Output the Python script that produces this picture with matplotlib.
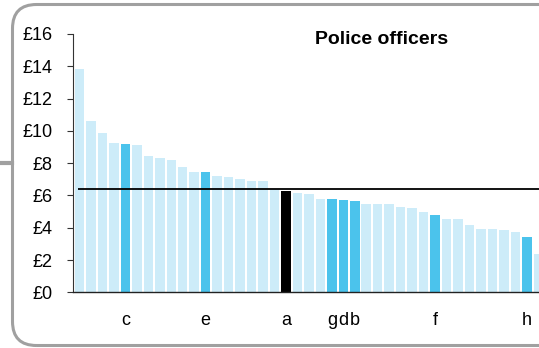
import matplotlib
matplotlib.use("Agg")
import matplotlib.pyplot as plt
from matplotlib.patches import FancyBboxPatch
from matplotlib.transforms import IdentityTransform
from matplotlib.lines import Line2D

plt.rcParams['font.family'] = ['Liberation Sans', 'DejaVu Sans']

values = [13.81, 10.61, 9.85, 9.25, 9.18, 9.12, 8.44, 8.30, 8.17, 7.76,
          7.45, 7.45, 7.22, 7.14, 7.02, 6.87, 6.87, 6.42, 6.27, 6.15,
          6.09, 5.78, 5.76, 5.72, 5.63, 5.47, 5.45, 5.45, 5.28, 5.22,
          4.95, 4.81, 4.56, 4.54, 4.17, 3.90, 3.90, 3.86, 3.74, 3.43, 2.35]
bar_labels = ['', '', '', '', 'c', '', '', '', '', '',
              '', 'e', '', '', '', '', '', '', 'a', '',
              '', '', 'g', 'd', 'b', '', '', '', '', '',
              '', 'f', '', '', '', '', '', '', '', 'h', '']
average = 6.41
yticks = [0, 2, 4, 6, 8, 10, 12, 14, 16]
ytick_labels = ['£0', '£2', '£4', '£6', '£8', '£10', '£12', '£14', '£16']
title = 'Police officers'

LIGHT = '#CDECF9'
DARK = '#4BC3EC'
BLACK = '#000000'

def colour(lbl):
    if lbl == 'a':
        return BLACK
    if lbl:
        return DARK
    return LIGHT

W, H = 539, 348
fig = plt.figure(figsize=(W / 100, H / 100), dpi=100)

pitch = 11.47
x0 = -0.567
x1 = 40.6
left_px = 73
bottom_px = H - 292.3
top_px = H - 34
ax = fig.add_axes([left_px / W, bottom_px / H, (x1 - x0) * pitch / W, (top_px - bottom_px) / H])

xs = list(range(len(values)))
ax.bar(xs, values, width=0.83, color=[colour(l) for l in bar_labels], linewidth=0)
ax.hlines(average, -0.1, 45, color='black', linewidth=1.3, zorder=3)

ax.set_xlim(x0, x1)
ax.set_ylim(0, 16)
ax.set_yticks(yticks)
ax.set_yticklabels(ytick_labels)
ax.set_xticks(xs)
ax.set_xticklabels(bar_labels)
ax.tick_params(axis='x', length=0, pad=14.5, labelsize=13)
ax.tick_params(axis='y', length=4, width=0.8, pad=10.5, labelsize=13, color='#333333')
for s in ['top', 'right']:
    ax.spines[s].set_visible(False)
ax.spines['left'].set_color('#333333')
ax.spines['left'].set_linewidth(0.8)
ax.spines['bottom'].set_color('#222222')
ax.spines['bottom'].set_linewidth(1.0)

fig.text(382 / W, 1 - 40 / H, title, ha='center', va='center',
         fontsize=14, fontweight='bold')

frame = FancyBboxPatch((12.5, 2.5), 560, 341, boxstyle='round,pad=0,rounding_size=24',
                       transform=IdentityTransform(), facecolor='none',
                       edgecolor='#A0A0A0', linewidth=2.2)
fig.add_artist(frame)
fig.add_artist(Line2D([0, 12], [H - 163, H - 163], transform=IdentityTransform(),
                      color='#A0A0A0', linewidth=3))

fig.savefig('out.png', dpi=100)
